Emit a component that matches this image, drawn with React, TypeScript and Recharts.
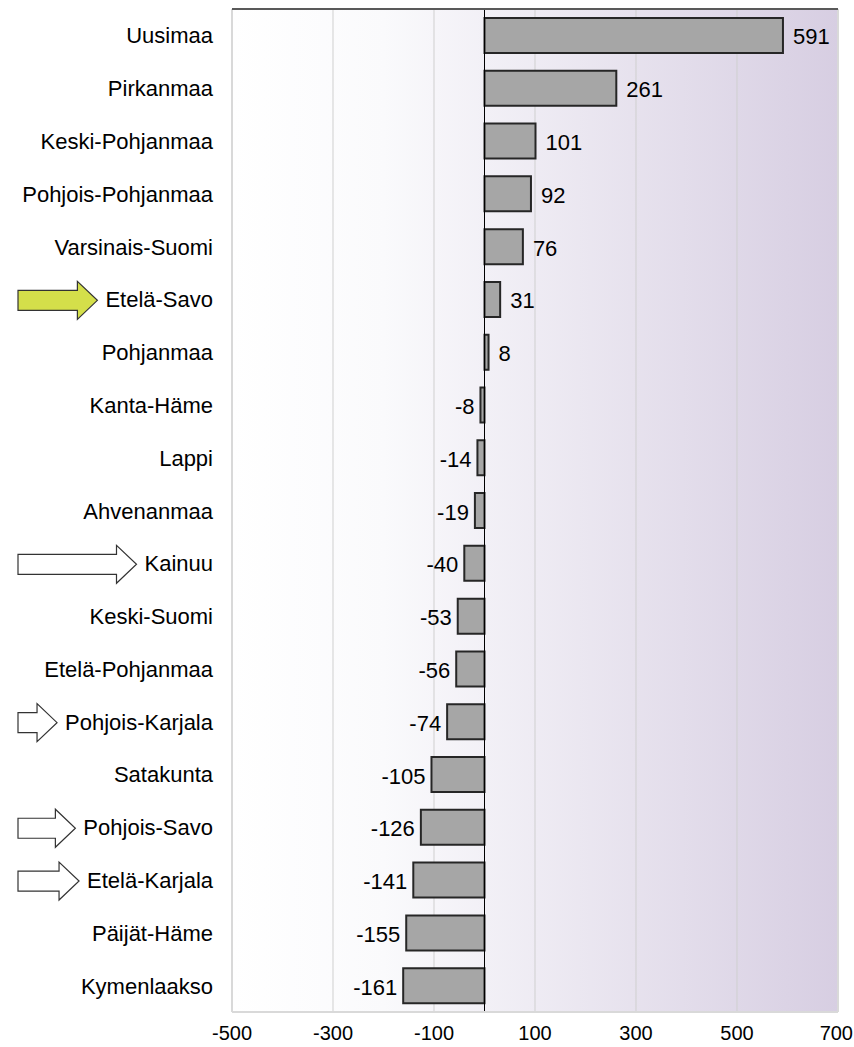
import React from 'react';
import {
	BarChart,
	Bar,
	XAxis,
	YAxis,
	CartesianGrid,
	ReferenceLine,
	LabelList,
} from 'recharts';

// maakunnat ja muutos
const regions = [
	'Uusimaa',
	'Pirkanmaa',
	'Keski-Pohjanmaa',
	'Pohjois-Pohjanmaa',
	'Varsinais-Suomi',
	'Etelä-Savo',
	'Pohjanmaa',
	'Kanta-Häme',
	'Lappi',
	'Ahvenanmaa',
	'Kainuu',
	'Keski-Suomi',
	'Etelä-Pohjanmaa',
	'Pohjois-Karjala',
	'Satakunta',
	'Pohjois-Savo',
	'Etelä-Karjala',
	'Päijät-Häme',
	'Kymenlaakso',
];
const changes = [591, 261, 101, 92, 76, 31, 8, -8, -14, -19, -40, -53, -56, -74, -105, -126, -141, -155, -161];
const xTicks = [-500, -300, -100, 100, 300, 500, 700];

// nuolet nimien edessä
const highlighted = ['Etelä-Savo'];
const arrowRegions = ['Etelä-Savo', 'Kainuu', 'Pohjois-Karjala', 'Pohjois-Savo', 'Etelä-Karjala'];

const data = regions.map((name, i) => ({ name, value: changes[i] }));

const FONT = '"Liberation Sans", Arial, sans-serif';
const FS = 22;

// nuoli päättyy vähän ennen tekstiä
const arrowPath = (x0: number, x1: number, cy: number) => {
	const head = 20;
	const bodyH = 10;
	const headH = 19;
	const neck = x1 - head;
	return `M${x0},${cy - bodyH} L${neck},${cy - bodyH} L${neck},${cy - headH} L${x1},${cy} L${neck},${cy + headH} L${neck},${cy + bodyH} L${x0},${cy + bodyH} Z`;
};

const measure = (text: string, size = FS) => {
	const c = document.createElement('canvas').getContext('2d');
	if (!c) return text.length * size * 0.5;
	c.font = `${size}px ${FONT}`;
	return c.measureText(text).width;
};

const CategoryTick = (props: any) => {
	const { x, y, payload } = props;
	const name: string = payload.value;
	const right = x - 19;
	const hasArrow = arrowRegions.includes(name);
	const textW = measure(name);
	return (
		<g>
			{hasArrow && (
				<path
					d={arrowPath(18, right - textW - 8, y + 1)}
					fill={highlighted.includes(name) ? '#d4df4a' : '#ffffff'}
					stroke="#333"
					strokeWidth={1.2}
				/>
			)}
			<text x={right} y={y} dy={8} textAnchor="end" fontSize={FS} fill="#000" fontFamily={FONT}>
				{name}
			</text>
		</g>
	);
};

// viimeinen luku ei saa mennä reunan yli
const NumberTick = (props: any) => {
	const { x, y, payload } = props;
	const label = String(payload.value);
	const w = measure(label, 20);
	const cx = Math.min(x, 853 - w / 2);
	return (
		<text x={cx} y={y} dy={16} textAnchor="middle" fontSize={20} fill="#000" fontFamily={FONT}>
			{label}
		</text>
	);
};

const ValueLabel = (props: any) => {
	const { x, y, width, height, value } = props;
	const left = Math.min(x, x + width);
	const right = Math.max(x, x + width);
	const pos = value >= 0;
	return (
		<text
			x={pos ? right + 10 : left - 6}
			y={y + height / 2}
			dy={9}
			textAnchor={pos ? 'start' : 'end'}
			fontSize={FS}
			fill="#000"
			fontFamily={FONT}
		>
			{value}
		</text>
	);
};

export default function App() {
	return (
		<div style={{ position: 'absolute', left: 0, top: 0, width: 854, height: 1047, background: '#fff' }}>
			<svg width={0} height={0} style={{ position: 'absolute' }}>
				<defs>
					<linearGradient id="bgGrad" x1="0" y1="0" x2="1" y2="0">
						<stop offset="0%" stopColor="#ffffff" />
						<stop offset="25%" stopColor="#fafafc" />
						<stop offset="100%" stopColor="#d7cee2" />
					</linearGradient>
				</defs>
			</svg>
			<BarChart
				width={854}
				height={1047}
				data={data}
				layout="vertical"
				barCategoryGap="17%"
				margin={{ top: 9, right: 16, left: 0, bottom: 0 }}
			>
				<CartesianGrid
					horizontal={false}
					stroke="#cfcfcf"
					fill="url(#bgGrad)"
					fillOpacity={1}
				/>
				<XAxis
					type="number"
					domain={[-500, 700]}
					ticks={xTicks}
					height={35}
					axisLine={{ stroke: '#d9d9d9', strokeWidth: 2 }}
					tickLine={false}
					tick={<NumberTick />}
					tickMargin={6}
				/>
				<YAxis
					type="category"
					dataKey="name"
					width={232}
					axisLine={{ stroke: '#d9d9d9', strokeWidth: 2 }}
					tickLine={false}
					tickSize={0}
					tickMargin={0}
					tick={<CategoryTick />}
					interval={0}
				/>
				<ReferenceLine x={700} stroke="#d9d9d9" strokeWidth={2} />
				<ReferenceLine x={0} stroke="#000" strokeWidth={1} />
				<Bar dataKey="value" fill="#a6a6a6" stroke="#262626" strokeWidth={2} isAnimationActive={false}>
					<LabelList dataKey="value" content={<ValueLabel />} />
				</Bar>
			</BarChart>
			{/* ylälaidan tumma viiva */}
			<div style={{ position: 'absolute', left: 232, top: 8, width: 606, height: 2, background: '#595959' }} />
		</div>
	);
}
